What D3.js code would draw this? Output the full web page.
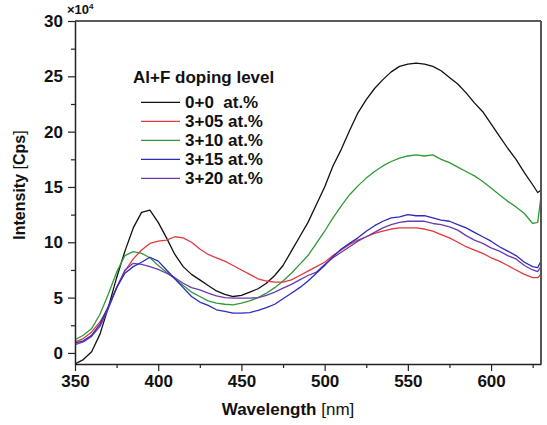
<!DOCTYPE html>
<html lang="en">
<head>
<meta charset="UTF-8">
<title>PL spectra</title>
<script src="https://cdn.jsdelivr.net/npm/d3@7"></script>
<style>
  body { margin: 0; background: #fff; }
  text { font-family: "Liberation Sans", Arial, sans-serif; font-weight: bold; fill: #111; }
</style>
</head>
<body>
<svg id="chart" width="547" height="425"></svg>
<script>
// wavelengths (nm)
const wavelengths = [350,355,360,365,370,375,380,385,390,395,400,405,410,415,420,425,430,435,440,445,
  450,455,460,465,470,475,480,485,490,495,500,505,510,515,520,525,530,535,540,545,
  550,555,560,565,570,575,580,585,590,595,600,605,610,615,620,625,628,630];

// intensities (x10^4 cps)
const s00 = [-1.0,-0.6,0.1,1.7,4.1,6.8,9.2,11.3,12.7,12.9,11.8,10.4,8.9,7.8,7.1,6.6,6.1,5.6,5.3,5.1,
  5.2,5.5,5.8,6.3,7.0,7.9,9.2,10.5,11.8,13.4,15.0,16.9,18.4,20.1,21.7,22.9,23.9,24.7,25.4,25.9,
  26.1,26.2,26.1,25.9,25.5,24.9,24.3,23.5,22.6,21.8,20.7,19.6,18.5,17.5,16.3,15.2,14.5,14.7];
const s305 = [1.0,1.3,1.9,2.8,4.1,5.9,7.4,8.5,9.3,9.9,10.1,10.2,10.5,10.4,10.0,9.4,8.9,8.6,8.3,7.9,
  7.5,7.1,6.7,6.5,6.4,6.4,6.6,7.0,7.4,7.8,8.2,8.8,9.3,9.8,10.2,10.5,10.8,11.0,11.2,11.3,
  11.3,11.3,11.2,11.0,10.7,10.4,10.0,9.6,9.3,9.0,8.6,8.3,7.9,7.5,7.1,6.8,6.8,7.1];
const s310 = [1.2,1.6,2.2,3.5,5.3,7.3,8.8,9.15,9.0,8.6,7.9,7.3,6.7,6.1,5.5,5.1,4.7,4.5,4.4,4.35,
  4.5,4.7,5.0,5.4,5.9,6.5,7.2,8.0,8.8,9.9,11.0,12.2,13.3,14.3,15.1,15.8,16.4,16.9,17.3,17.6,
  17.8,17.9,17.8,17.9,17.5,17.2,16.8,16.4,16.0,15.5,14.9,14.3,13.7,13.2,12.6,11.7,11.8,14.1];
const s315 = [0.9,1.1,1.6,2.6,4.2,5.9,7.2,7.8,8.2,8.65,8.3,7.5,6.7,5.9,5.1,4.6,4.3,3.9,3.75,3.6,
  3.6,3.65,3.85,4.1,4.4,4.9,5.4,5.9,6.5,7.2,7.9,8.7,9.4,9.9,10.4,11.0,11.5,11.9,12.2,12.3,
  12.5,12.4,12.4,12.2,12.0,11.9,11.6,11.3,10.9,10.5,10.1,9.6,9.2,8.8,8.2,7.8,7.7,8.3];
const s320 = [0.75,1.0,1.5,2.4,4.0,5.9,7.5,8.1,8.0,7.8,7.55,7.2,6.8,6.3,5.9,5.7,5.4,5.15,5.0,4.95,
  4.95,4.95,5.0,5.2,5.5,5.85,6.2,6.6,7.0,7.3,8.0,8.6,9.1,9.6,10.1,10.5,10.9,11.3,11.6,11.8,
  11.9,11.9,11.9,11.7,11.6,11.4,11.1,10.6,10.2,9.9,9.5,9.2,8.8,8.5,7.9,7.5,7.35,7.8];

const seriesNames = ["0+0  at.%", "3+05 at.%", "3+10 at.%", "3+15 at.%", "3+20 at.%"];
const seriesColors = ["#111111", "#e0393e", "#2f9a36", "#2b2bbd", "#6d3aae"];
const seriesValues = [s00, s305, s310, s315, s320];
// draw order: back to front
const drawOrder = [0, 2, 1, 4, 3];

const xTicks = [350, 400, 450, 500, 550, 600];
const yTicks = [0, 5, 10, 15, 20, 25, 30];

const svg = d3.select("#chart");
const pLeft = 75, pRight = 541, pTop = 21, pBottom = 364;

const x = d3.scaleLinear().domain([350, 630]).range([pLeft, pRight]);
const y = d3.scaleLinear().domain([-1, 30]).range([pBottom, pTop]);

// clip
svg.append("clipPath").attr("id", "clip")
  .append("rect").attr("x", pLeft).attr("y", pTop).attr("width", pRight - pLeft).attr("height", pBottom - pTop);

// curves
const line = d3.line()
  .x((d, i) => x(wavelengths[i]))
  .y(d => y(d));

svg.append("g").attr("clip-path", "url(#clip)")
  .selectAll("path")
  .data(drawOrder)
  .enter()
  .append("path")
  .attr("d", k => line(seriesValues[k]))
  .attr("fill", "none")
  .attr("stroke", k => seriesColors[k])
  .attr("stroke-width", 1.3)
  .attr("stroke-linejoin", "round");

// frame
svg.append("line").attr("x1", pLeft).attr("x2", pRight).attr("y1", pTop).attr("y2", pTop)
  .attr("stroke", "#222").attr("stroke-width", 1.5);
svg.append("line").attr("x1", pRight).attr("x2", pRight).attr("y1", pTop).attr("y2", pBottom)
  .attr("stroke", "#555").attr("stroke-width", 2);

// x axis
svg.append("g").attr("transform", `translate(0,${pBottom})`)
  .call(d3.axisBottom(x).tickValues(xTicks).tickSize(7).tickSizeOuter(0).tickPadding(4));
svg.append("g").attr("transform", `translate(0,${pBottom})`)
  .call(d3.axisBottom(x).tickValues(d3.range(375, 630, 50)).tickSize(4).tickFormat(""))
  .call(g => g.select(".domain").remove());

// y axis
svg.append("g").attr("transform", `translate(${pLeft},0)`)
  .call(d3.axisLeft(y).tickValues(yTicks).tickSize(7).tickSizeOuter(0).tickPadding(5));
svg.append("g").attr("transform", `translate(${pLeft},0)`)
  .call(d3.axisLeft(y).tickValues(d3.range(2.5, 30, 5)).tickSize(4).tickFormat(""))
  .call(g => g.select(".domain").remove());

svg.selectAll(".domain").attr("stroke", "#222").attr("stroke-width", 1.5);
svg.selectAll(".tick line").attr("stroke", "#222").attr("stroke-width", 1.2);
svg.selectAll(".tick text").style("font-size", "17px").attr("fill", "#111");

// exponent
const ex = svg.append("text").attr("x", 67).attr("y", 14).style("font-size", "13px");
ex.append("tspan").text("×10");
ex.append("tspan").attr("dy", -5).style("font-size", "8px").text("4");

// axis titles
const xt = svg.append("text").attr("x", 288).attr("y", 415).attr("text-anchor", "middle")
  .style("font-size", "17px");
xt.append("tspan").text("Wavelength ");
xt.append("tspan").style("font-weight", "normal").text("[nm]");

const yt = svg.append("text").attr("transform", "translate(25,185) rotate(-90)")
  .attr("text-anchor", "middle").style("font-size", "16px");
yt.append("tspan").text("Intensity ");
yt.append("tspan").style("font-weight", "normal").text("[");
yt.append("tspan").text("Cps");
yt.append("tspan").style("font-weight", "normal").text("]");

// legend
const legend = svg.append("g");
legend.append("text").attr("x", 133).attr("y", 83).style("font-size", "17px").text("Al+F doping level");
const rows = legend.selectAll("g.row").data(seriesNames).enter().append("g")
  .attr("transform", (d, i) => `translate(0,${102.3 + i * 19})`);
rows.append("line").attr("x1", 141).attr("x2", 180).attr("y1", 0).attr("y2", 0)
  .attr("stroke", (d, i) => seriesColors[i]).attr("stroke-width", 1.3);
rows.append("text").attr("x", 185).attr("y", 6).style("font-size", "17px")
  .style("white-space", "pre").attr("xml:space", "preserve").text(d => d);
</script>
</body>
</html>
